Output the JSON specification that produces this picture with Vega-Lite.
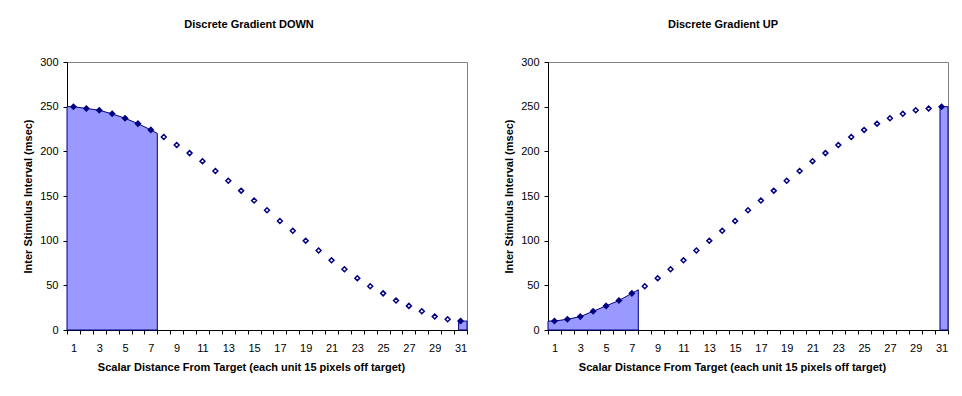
{
  "$schema": "https://vega.github.io/schema/vega-lite/v6.json",
  "padding": {"top": 18, "left": 22, "right": 5, "bottom": 5},
  "background": "white",
  "spacing": 29,
  "datasets": {
    "down": [
      {"x": 1, "v": 250, "marker": "solid"}, {"x": 2, "v": 248, "marker": "solid"}, {"x": 3, "v": 246, "marker": "solid"},
      {"x": 4, "v": 242, "marker": "solid"}, {"x": 5, "v": 237, "marker": "solid"}, {"x": 6, "v": 231, "marker": "solid"},
      {"x": 7, "v": 224, "marker": "solid"}, {"x": 8, "v": 216, "marker": "open"}, {"x": 9, "v": 207, "marker": "open"},
      {"x": 10, "v": 198, "marker": "open"}, {"x": 11, "v": 189, "marker": "open"}, {"x": 12, "v": 178, "marker": "open"},
      {"x": 13, "v": 167, "marker": "open"}, {"x": 14, "v": 156, "marker": "open"}, {"x": 15, "v": 145, "marker": "open"},
      {"x": 16, "v": 134, "marker": "open"}, {"x": 17, "v": 122, "marker": "open"}, {"x": 18, "v": 111, "marker": "open"},
      {"x": 19, "v": 100, "marker": "open"}, {"x": 20, "v": 89, "marker": "open"}, {"x": 21, "v": 78, "marker": "open"},
      {"x": 22, "v": 68, "marker": "open"}, {"x": 23, "v": 58, "marker": "open"}, {"x": 24, "v": 49, "marker": "open"},
      {"x": 25, "v": 41, "marker": "open"}, {"x": 26, "v": 33, "marker": "open"}, {"x": 27, "v": 27, "marker": "open"},
      {"x": 28, "v": 21, "marker": "open"}, {"x": 29, "v": 15, "marker": "open"}, {"x": 30, "v": 12, "marker": "open"},
      {"x": 31, "v": 10, "marker": "solid"}
    ],
    "up": [
      {"x": 1, "v": 10, "marker": "solid"}, {"x": 2, "v": 12, "marker": "solid"}, {"x": 3, "v": 15, "marker": "solid"},
      {"x": 4, "v": 21, "marker": "solid"}, {"x": 5, "v": 27, "marker": "solid"}, {"x": 6, "v": 33, "marker": "solid"},
      {"x": 7, "v": 41, "marker": "solid"}, {"x": 8, "v": 49, "marker": "open"}, {"x": 9, "v": 58, "marker": "open"},
      {"x": 10, "v": 68, "marker": "open"}, {"x": 11, "v": 78, "marker": "open"}, {"x": 12, "v": 89, "marker": "open"},
      {"x": 13, "v": 100, "marker": "open"}, {"x": 14, "v": 111, "marker": "open"}, {"x": 15, "v": 122, "marker": "open"},
      {"x": 16, "v": 134, "marker": "open"}, {"x": 17, "v": 145, "marker": "open"}, {"x": 18, "v": 156, "marker": "open"},
      {"x": 19, "v": 167, "marker": "open"}, {"x": 20, "v": 178, "marker": "open"}, {"x": 21, "v": 189, "marker": "open"},
      {"x": 22, "v": 198, "marker": "open"}, {"x": 23, "v": 207, "marker": "open"}, {"x": 24, "v": 216, "marker": "open"},
      {"x": 25, "v": 224, "marker": "open"}, {"x": 26, "v": 231, "marker": "open"}, {"x": 27, "v": 237, "marker": "open"},
      {"x": 28, "v": 242, "marker": "open"}, {"x": 29, "v": 246, "marker": "open"}, {"x": 30, "v": 248, "marker": "open"},
      {"x": 31, "v": 250, "marker": "solid"}
    ],
    "downArea": [
      {"x": 0.5, "v": 250, "seg": "a"}, {"x": 1, "v": 250, "seg": "a"}, {"x": 2, "v": 248, "seg": "a"},
      {"x": 3, "v": 246, "seg": "a"}, {"x": 4, "v": 242, "seg": "a"}, {"x": 5, "v": 237, "seg": "a"},
      {"x": 6, "v": 231, "seg": "a"}, {"x": 7, "v": 224, "seg": "a"}, {"x": 7.5, "v": 220, "seg": "a"},
      {"x": 30.85, "v": 10, "seg": "b"}, {"x": 31.5, "v": 10, "seg": "b"}
    ],
    "upArea": [
      {"x": 0.5, "v": 10, "seg": "a"}, {"x": 1, "v": 10, "seg": "a"}, {"x": 2, "v": 12, "seg": "a"},
      {"x": 3, "v": 15, "seg": "a"}, {"x": 4, "v": 21, "seg": "a"}, {"x": 5, "v": 27, "seg": "a"},
      {"x": 6, "v": 33, "seg": "a"}, {"x": 7, "v": 41, "seg": "a"}, {"x": 7.5, "v": 45, "seg": "a"},
      {"x": 30.88, "v": 250, "seg": "b"}, {"x": 31.5, "v": 250, "seg": "b"}
    ]
  },
  "hconcat": [
    {
      "title": {"text": "Discrete Gradient DOWN", "anchor": "middle", "frame": "group", "offset": 26, "dx": -18},
      "width": 400,
      "height": 268,
      "layer": [
        {
          "data": {"name": "downArea"},
          "mark": {"type": "area", "fill": "#9999FF", "stroke": "#000080", "strokeWidth": 1, "opacity": 1, "fillOpacity": 1},
          "encoding": {
            "x": {"field": "x", "type": "quantitative", "scale": {"domain": [0.5, 31.5], "nice": false, "zero": false},
              "axis": {"values": [0.5,1.5,2.5,3.5,4.5,5.5,6.5,7.5,8.5,9.5,10.5,11.5,12.5,13.5,14.5,15.5,16.5,17.5,18.5,19.5,20.5,21.5,22.5,23.5,24.5,25.5,26.5,27.5,28.5,29.5,30.5,31.5],
                "tickCount": 64,
                "labelExpr": "((datum.value + 0.5) % 2 == 1 && datum.value < 31) ? '' + (datum.value + 0.5) : ''",
                "labelOffset": 6.45, "labelFlush": false, "labelOverlap": false, "labelBound": false, "labelPadding": 8, "titlePadding": 8,
                "title": "Scalar Distance From Target (each unit 15 pixels off target)", "titleX": 184}},
            "y": {"field": "v", "type": "quantitative", "stack": null, "scale": {"domain": [0, 300], "nice": false},
              "axis": {"values": [0, 50, 100, 150, 200, 250, 300], "tickCount": 14, "title": "Inter Stimulus Interval (msec)", "labelPadding": 5, "titlePadding": 6}},
            "detail": {"field": "seg"}
          }
        },
        {
          "data": {"name": "down"},
          "transform": [{"filter": "datum.marker == 'open'"}],
          "mark": {"type": "point", "shape": "diamond", "size": 24, "filled": true, "fill": "#ffffff", "stroke": "#000080", "strokeWidth": 1.5, "opacity": 1},
          "encoding": {"x": {"field": "x", "type": "quantitative"}, "y": {"field": "v", "type": "quantitative"}}
        },
        {
          "data": {"name": "down"},
          "transform": [{"filter": "datum.marker == 'solid'"}],
          "mark": {"type": "point", "shape": "diamond", "size": 50, "filled": true, "fill": "#000080", "strokeWidth": 0, "opacity": 1},
          "encoding": {"x": {"field": "x", "type": "quantitative"}, "y": {"field": "v", "type": "quantitative"}}
        }
      ]
    },
    {
      "title": {"text": "Discrete Gradient UP", "anchor": "middle", "frame": "group", "offset": 26, "dx": -25},
      "width": 400,
      "height": 268,
      "layer": [
        {
          "data": {"name": "upArea"},
          "mark": {"type": "area", "fill": "#9999FF", "stroke": "#000080", "strokeWidth": 1, "opacity": 1, "fillOpacity": 1},
          "encoding": {
            "x": {"field": "x", "type": "quantitative", "scale": {"domain": [0.5, 31.5], "nice": false, "zero": false},
              "axis": {"values": [0.5,1.5,2.5,3.5,4.5,5.5,6.5,7.5,8.5,9.5,10.5,11.5,12.5,13.5,14.5,15.5,16.5,17.5,18.5,19.5,20.5,21.5,22.5,23.5,24.5,25.5,26.5,27.5,28.5,29.5,30.5,31.5],
                "tickCount": 64,
                "labelExpr": "((datum.value + 0.5) % 2 == 1 && datum.value < 31) ? '' + (datum.value + 0.5) : ''",
                "labelOffset": 6.45, "labelFlush": false, "labelOverlap": false, "labelBound": false, "labelPadding": 8, "titlePadding": 8,
                "title": "Scalar Distance From Target (each unit 15 pixels off target)", "titleX": 184}},
            "y": {"field": "v", "type": "quantitative", "stack": null, "scale": {"domain": [0, 300], "nice": false},
              "axis": {"values": [0, 50, 100, 150, 200, 250, 300], "tickCount": 14, "title": "Inter Stimulus Interval (msec)", "labelPadding": 5, "titlePadding": 6}},
            "detail": {"field": "seg"}
          }
        },
        {
          "data": {"name": "up"},
          "transform": [{"filter": "datum.marker == 'open'"}],
          "mark": {"type": "point", "shape": "diamond", "size": 24, "filled": true, "fill": "#ffffff", "stroke": "#000080", "strokeWidth": 1.5, "opacity": 1},
          "encoding": {"x": {"field": "x", "type": "quantitative"}, "y": {"field": "v", "type": "quantitative"}}
        },
        {
          "data": {"name": "up"},
          "transform": [{"filter": "datum.marker == 'solid'"}],
          "mark": {"type": "point", "shape": "diamond", "size": 50, "filled": true, "fill": "#000080", "strokeWidth": 0, "opacity": 1},
          "encoding": {"x": {"field": "x", "type": "quantitative"}, "y": {"field": "v", "type": "quantitative"}}
        }
      ]
    }
  ],
  "config": {
    "view": {"stroke": "#808080", "strokeWidth": 1},
    "axis": {
      "grid": false,
      "labelFont": "Liberation Sans", "labelFontSize": 11, "labelColor": "#000000",
      "titleFont": "Liberation Sans", "titleFontSize": 11, "titleFontWeight": "bold", "titleColor": "#000000",
      "domainColor": "#000000", "domainWidth": 1, "tickColor": "#000000", "tickSize": 4, "tickWidth": 1
    },
    "axisX": {"labelOverlap": false},
    "title": {"font": "Liberation Sans", "fontSize": 11, "fontWeight": "bold", "color": "#000000"}
  }
}
